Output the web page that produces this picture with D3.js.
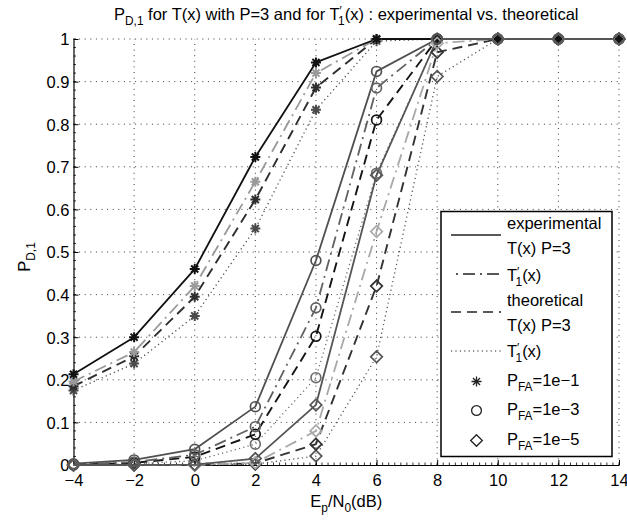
<!DOCTYPE html>
<html>
<head>
<meta charset="utf-8">
<script src="https://cdn.jsdelivr.net/npm/d3@7"></script>
<style>
  body { margin: 0; background: #fff; }
  svg { display: block; }
  text { font-family: "Liberation Sans", Arial, Helvetica, sans-serif; fill: #000; }
</style>
</head>
<body>
<svg id="chart" width="627" height="522"></svg>
<script>
// Ep/N0 in dB
const snr = [-4, -2, 0, 2, 4, 6, 8, 10, 12, 14];
const xTicks = [-4, -2, 0, 2, 4, 6, 8, 10, 12, 14];
const yTicks = [0, 0.1, 0.2, 0.3, 0.4, 0.5, 0.6, 0.7, 0.8, 0.9, 1];

// P_FA = 1e-1
const expT_fa1   = [0.213, 0.300, 0.460, 0.723, 0.945, 1.000, 1, 1, 1, 1];
const expT1_fa1  = [0.196, 0.265, 0.420, 0.665, 0.920, 1.000, 1, 1, 1, 1];
const thT_fa1    = [0.185, 0.255, 0.395, 0.623, 0.886, 1.000, 1, 1, 1, 1];
const thT1_fa1   = [0.175, 0.238, 0.350, 0.555, 0.834, 0.995, 1, 1, 1, 1];
// P_FA = 1e-3
const expT_fa3   = [0.003, 0.012, 0.037, 0.137, 0.480, 0.924, 1, 1, 1, 1];
const expT1_fa3  = [0.001, 0.007, 0.024, 0.090, 0.369, 0.885, 1, 1, 1, 1];
const thT_fa3    = [0.001, 0.005, 0.019, 0.072, 0.302, 0.810, 1, 1, 1, 1];
const thT1_fa3   = [0.000, 0.003, 0.010, 0.049, 0.205, 0.685, 1, 1, 1, 1];
// P_FA = 1e-5
const expT_fa5   = [0.000, 0.000, 0.001, 0.015, 0.141, 0.680, 1.000, 1, 1, 1];
const expT1_fa5  = [0.000, 0.000, 0.000, 0.005, 0.080, 0.548, 0.990, 1, 1, 1];
const thT_fa5    = [0.000, 0.000, 0.000, 0.004, 0.049, 0.420, 0.969, 1, 1, 1];
const thT1_fa5   = [0.000, 0.000, 0.000, 0.002, 0.021, 0.254, 0.912, 1, 1, 1];

// line styles: experimental T(x) solid, experimental T1' dash-dot,
// theoretical T(x) dashed, theoretical T1' dotted
const styles = {
  solid:   { dash: null,          width: 1.8 },
  dashdot: { dash: "12,5,2,5",    width: 1.8 },
  dashed:  { dash: "10,6",        width: 1.9 },
  dotted:  { dash: "1.2,3.2",     width: 1.3 }
};

const series = [
  { values: thT1_fa1,  style: "dotted",  marker: "star",    color: "#4a4a4a" },
  { values: thT_fa1,   style: "dashed",  marker: "star",    color: "#2e2e2e" },
  { values: expT1_fa1, style: "dashdot", marker: "star",    color: "#9a9a9a" },
  { values: expT_fa1,  style: "solid",   marker: "star",    color: "#111111" },
  { values: thT1_fa3,  style: "dotted",  marker: "circle",  color: "#6e6e6e" },
  { values: thT_fa3,   style: "dashed",  marker: "circle",  color: "#151515" },
  { values: expT1_fa3, style: "dashdot", marker: "circle",  color: "#606060" },
  { values: expT_fa3,  style: "solid",   marker: "circle",  color: "#505050" },
  { values: thT1_fa5,  style: "dotted",  marker: "diamond", color: "#555555" },
  { values: thT_fa5,   style: "dashed",  marker: "diamond", color: "#333333" },
  { values: expT1_fa5, style: "dashdot", marker: "diamond", color: "#a8a8a8" },
  { values: expT_fa5,  style: "solid",   marker: "diamond", color: "#555555" }
];

const svg = d3.select("#chart");
const mLeft = 73.5, mRight = 619, mTop = 39, mBottom = 465;

const x = d3.scaleLinear().domain([-4, 14]).range([mLeft, mRight]);
const y = d3.scaleLinear().domain([0, 1]).range([mBottom, mTop]);

// dotted grid
const grid = svg.append("g").attr("stroke", "#3a3a3a").attr("stroke-width", 1)
  .attr("stroke-dasharray", "1,4.6");
grid.selectAll("line.gx").data(xTicks.slice(1)).join("line")
  .attr("x1", d => x(d)).attr("x2", d => x(d)).attr("y1", mBottom).attr("y2", mTop);
grid.selectAll("line.gy").data(yTicks.slice(1)).join("line")
  .attr("x1", mLeft).attr("x2", mRight).attr("y1", d => y(d)).attr("y2", d => y(d));

// axes with inward ticks
const fmtX = d => (d < 0 ? "\u2212" + Math.abs(d) : String(d));
const fmtY = d => (d === 0 ? "0" : d === 1 ? "1" : d3.format(".1f")(d));

const xAxis = svg.append("g").attr("transform", `translate(0,${mBottom})`)
  .call(d3.axisBottom(x).tickValues(xTicks).tickFormat(fmtX).tickSizeInner(-5).tickSizeOuter(0).tickPadding(9));
const yAxis = svg.append("g").attr("transform", `translate(${mLeft},0)`)
  .call(d3.axisLeft(y).tickValues(yTicks).tickFormat(fmtY).tickSizeInner(-5).tickSizeOuter(0).tickPadding(4));
[xAxis, yAxis].forEach(a => {
  a.select(".domain").attr("stroke", "#000").attr("stroke-width", 1.2);
  a.selectAll(".tick line").attr("stroke", "#000").attr("stroke-width", 1);
  a.selectAll(".tick text").attr("font-size", 16.5).attr("fill", "#000")
    .style("font-family", "'Liberation Sans', Arial, sans-serif");
});
yAxis.selectAll(".tick text").attr("dy", "0.36em");

// minor ticks
const xMinor = d3.range(-4, 14.001, 0.2);
const yMinor = d3.range(0, 1.0001, 0.02);
svg.append("g").attr("stroke", "#000").attr("stroke-width", 0.8)
  .selectAll("line").data(xMinor).join("line")
  .attr("x1", d => x(d)).attr("x2", d => x(d)).attr("y1", mBottom).attr("y2", mBottom - 2.5);
svg.append("g").attr("stroke", "#000").attr("stroke-width", 0.8)
  .selectAll("line").data(yMinor).join("line")
  .attr("x1", mLeft).attr("x2", mLeft + 2.5).attr("y1", d => y(d)).attr("y2", d => y(d));

// curves
const line = d3.line().x((d, i) => x(snr[i])).y(d => y(d));
const plot = svg.append("g");
series.forEach(s => {
  const st = styles[s.style];
  plot.append("path").datum(s.values)
    .attr("d", line).attr("fill", "none")
    .attr("stroke", s.color).attr("stroke-width", st.width)
    .attr("stroke-dasharray", st.dash)
    .attr("stroke-linejoin", "round");
});

// marker shapes
function markerPath(kind) {
  if (kind === "star") {
    const r = 5, q = r * Math.SQRT1_2;
    return `M${-r},0L${r},0M0,${-r}L0,${r}M${-q},${-q}L${q},${q}M${-q},${q}L${q},${-q}`;
  }
  if (kind === "circle") {
    const r = 4.9;
    return `M${r},0A${r},${r} 0 1,1 ${-r},0A${r},${r} 0 1,1 ${r},0Z`;
  }
  const r = 5.8;
  return `M0,${-r}L${r},0L0,${r}L${-r},0Z`;
}

series.forEach(s => {
  plot.append("g").selectAll("path").data(s.values).join("path")
    .attr("transform", (d, i) => `translate(${x(snr[i])},${y(d)})`)
    .attr("d", markerPath(s.marker))
    .attr("fill", "none").attr("stroke", s.color)
    .attr("stroke-width", s.marker === "star" ? 2 : 1.7);
});

// rich text helper: parts = [text, mode, dx] with mode "n" normal, "sub", "sup"
function richText(g, parts, size) {
  const t = g.append("text").attr("font-size", size);
  let level = 0;
  parts.forEach(([str, mode, dx]) => {
    const target = mode === "sub" ? 1 : mode === "sup" ? -1 : 0;
    const shift = (target - level) * size * 0.33;
    level = target;
    t.append("tspan").text(str)
      .attr("dy", shift)
      .attr("dx", dx || 0)
      .attr("font-size", mode === "n" ? size : size * 0.72);
  });
  return t;
}

// title
const title = richText(svg.append("g"), [
  ["P", "n"], ["D,1", "sub"],
  [" for T(x) with P=3 and for T", "n"],
  ["\u2032", "sup"], ["1", "sub", -3.8],
  ["(x) : experimental vs. theoretical", "n"]
], 16.5);
title.attr("x", (mLeft + mRight) / 2).attr("y", 20).attr("text-anchor", "middle");

// axis titles
const xl = richText(svg.append("g"), [["E", "n"], ["p", "sub"], ["/N", "n"], ["0", "sub"], ["(dB)", "n"]], 16.5);
xl.attr("x", (mLeft + mRight) / 2).attr("y", 507).attr("text-anchor", "middle");

const yl = richText(svg.append("g").attr("transform", "translate(30,257) rotate(-90)"),
  [["P", "n"], ["D,1", "sub"]], 16.5);
yl.attr("x", 0).attr("y", 0).attr("text-anchor", "middle");

// legend
const lg = svg.append("g");
lg.append("rect").attr("x", 441).attr("y", 211.5).attr("width", 171).attr("height", 245)
  .attr("fill", "#fff").attr("stroke", "#000").attr("stroke-width", 1.5);

const legendLines = [
  { style: "solid",   y: 235 },
  { style: "dashdot", y: 274, offset: 12 },
  { style: "dashed",  y: 312 },
  { style: "dotted",  y: 351 }
];
legendLines.forEach(l => {
  const st = styles[l.style];
  lg.append("line").attr("x1", 451).attr("x2", 501).attr("y1", l.y).attr("y2", l.y)
    .attr("stroke", "#222").attr("stroke-width", st.width === 1.3 ? 1.2 : 1.4)
    .attr("stroke-dasharray", st.dash)
    .attr("stroke-dashoffset", l.offset || 0);
});

const tx = 507, fs = 16.5;
function legText(parts, yy) {
  const t = richText(lg, parts, fs);
  t.attr("x", tx).attr("y", yy);
}
legText([["experimental", "n"]], 229);
legText([["T(x) P=3", "n"]], 253.5);
legText([["T", "n"], ["\u2032", "sup"], ["1", "sub", -3.8], ["(x)", "n"]], 281);
legText([["theoretical", "n"]], 306);
legText([["T(x) P=3", "n"]], 331);
legText([["T", "n"], ["\u2032", "sup"], ["1", "sub", -3.8], ["(x)", "n"]], 357);

const legendMarks = [
  { marker: "star",    y: 381.5, label: "1e\u22121" },
  { marker: "circle",  y: 410.5, label: "1e\u22123" },
  { marker: "diamond", y: 440.5, label: "1e\u22125" }
];
legendMarks.forEach(m => {
  lg.append("path").attr("transform", `translate(476.5,${m.y})`)
    .attr("d", markerPath(m.marker)).attr("fill", "none")
    .attr("stroke", "#222").attr("stroke-width", 1.3);
  legText([["P", "n"], ["FA", "sub"], ["=" + m.label, "n"]], m.y + 4);
});
</script>
</body>
</html>
